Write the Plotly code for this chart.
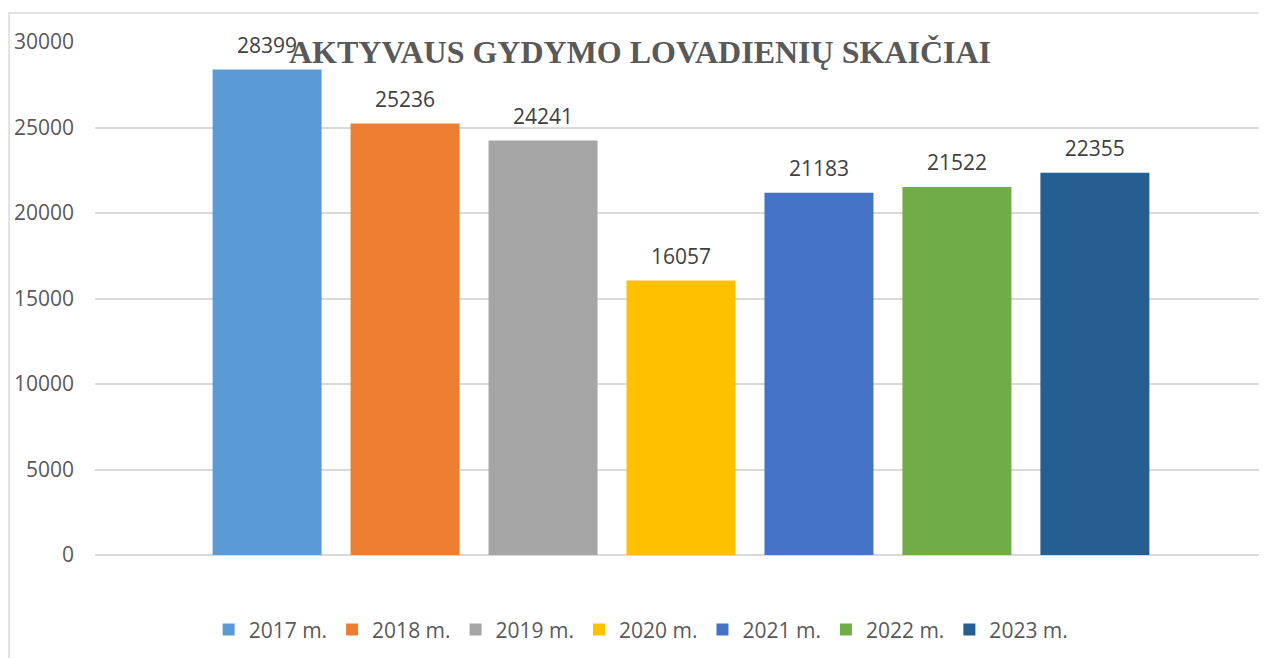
import plotly.graph_objects as go

years = ["2017 m.", "2018 m.", "2019 m.", "2020 m.", "2021 m.", "2022 m.", "2023 m."]
values = [28399, 25236, 24241, 16057, 21183, 21522, 22355]
colors = ["#5B9BD5", "#ED7D31", "#A5A5A5", "#FFC000", "#4472C4", "#70AD47", "#255E91"]
category = [""]
title_text = "AKTYVAUS GYDYMO LOVADIENIŲ SKAIČIAI"
y_ticks = [0, 5000, 10000, 15000, 20000, 25000, 30000]

fig = go.Figure()
for name, v, c in zip(years, values, colors):
    fig.add_trace(go.Bar(
        x=category, y=[v], name=name, marker=dict(color=c, line=dict(width=0)),
        offsetgroup=name, hoverinfo="skip",
    ))
for name, v in zip(years, values):
    fig.add_trace(go.Scatter(
        x=category, y=[v], mode="markers+text", text=[str(v)], textposition="top center",
        marker=dict(size=17, opacity=0), showlegend=False, cliponaxis=False, hoverinfo="skip",
        offsetgroup=name,
        textfont=dict(family="Open Sans", size=21, color="#404040"),
    ))

fig.update_layout(
    width=1259, height=650,
    margin=dict(l=87, r=0, t=34, b=103),
    paper_bgcolor="white", plot_bgcolor="white",
    barmode="group", bargap=0.176, bargroupgap=0.21,
    scattermode="group", scattergap=0.176,
    title=dict(text=f"<b>{title_text}</b>", x=0.502, y=0.932, xref="container", yref="container",
               xanchor="center", yanchor="middle",
               font=dict(family="Liberation Serif", size=32, color="#595959")),
    showlegend=True,
    legend=dict(orientation="h", x=0.466, y=-0.146, xanchor="center", yanchor="middle",
                font=dict(family="Open Sans", size=21, color="#595959"), traceorder="normal"),
    font=dict(family="Open Sans", color="#595959"),
)
fig.update_xaxes(showticklabels=False, showgrid=False, zeroline=False, showline=False, range=[-0.5, 0.5])
fig.update_yaxes(range=[0, 30000], tickvals=y_ticks, ticktext=[str(t) for t in y_ticks],
                 showgrid=True, gridcolor="#D9D9D9", gridwidth=1.5,
                 zeroline=True, zerolinecolor="#D9D9D9", zerolinewidth=1.5,
                 showline=False, ticks="", ticklabelstandoff=20,
                 tickfont=dict(family="Open Sans", size=21, color="#595959"))
fig.add_shape(type="rect", xref="paper", yref="paper", x0=-0.0733, x1=1.2, y0=-0.5, y1=1.0565,
              line=dict(color="#D9D9D9", width=1.5), fillcolor="rgba(0,0,0,0)", layer="below")
fig.write_html("out.html")
